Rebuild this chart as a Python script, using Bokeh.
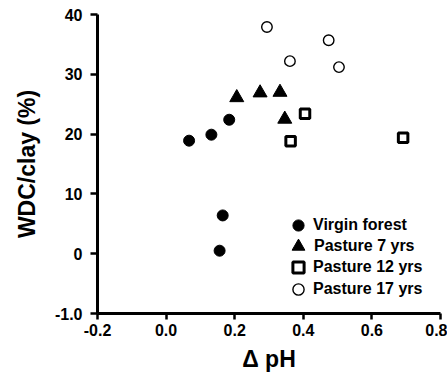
from bokeh.plotting import figure
from bokeh.models import Legend, LegendItem, FixedTicker, Range1d
from bokeh.embed import file_html
from bokeh.resources import INLINE

# Data
virgin_x = [0.067, 0.132, 0.184, 0.165, 0.156]
virgin_y = [18.9, 19.9, 22.4, 6.4, 0.5]

p7_x = [0.206, 0.274, 0.332, 0.346]
p7_y = [26.1, 26.9, 27.0, 22.5]

p12_x = [0.405, 0.363, 0.691]
p12_y = [23.4, 18.8, 19.4]

p17_x = [0.294, 0.474, 0.361, 0.504]
p17_y = [37.9, 35.7, 32.2, 31.2]

series_labels = ["Virgin forest", "Pasture 7 yrs", "Pasture 12 yrs", "Pasture 17 yrs"]

x_ticks = [-0.2, 0.0, 0.2, 0.4, 0.6, 0.8]
x_tick_labels = ["-0.2", "0.0", "0.2", "0.4", "0.6", "0.8"]
y_ticks = [-10, 0, 10, 20, 30, 40]
y_tick_labels = ["-1.0", "0", "10", "20", "30", "40"]

FONT = "Liberation Sans"

p = figure(width=447, height=375, output_backend="svg", toolbar_location=None,
           x_range=Range1d(-0.2, 0.8), y_range=Range1d(-10, 40),
           min_border_left=97, min_border_right=7, min_border_top=14, min_border_bottom=62)
p.outline_line_color = None
p.grid.visible = False
p.background_fill_color = "white"
p.border_fill_color = "white"

r1 = p.scatter(virgin_x, virgin_y, marker="circle", size=11, fill_color="black", line_color="black")
r2 = p.scatter(p7_x, p7_y, marker="triangle", size=14, fill_color="black", line_color="black")
r3 = p.scatter(p12_x, p12_y, marker="square", size=9.5, fill_color="white", line_color="black", line_width=3)
r4 = p.scatter(p17_x, p17_y, marker="circle", size=10.5, fill_color="white", line_color="black", line_width=1.4)

for ax, ticks, labels in ((p.xaxis[0], x_ticks, x_tick_labels), (p.yaxis[0], y_ticks, y_tick_labels)):
    ax.ticker = FixedTicker(ticks=ticks)
    ax.major_label_overrides = {t: l for t, l in zip(ticks, labels)}
    ax.axis_line_width = 3
    ax.axis_line_color = "black"
    ax.major_tick_line_width = 2.5
    ax.major_tick_line_color = "black"
    ax.major_tick_in = 0
    ax.minor_tick_line_color = None
    ax.major_label_text_font = FONT
    ax.major_label_text_font_style = "bold"
    ax.major_label_text_font_size = "16px"
    ax.major_label_text_color = "black"
    ax.axis_label_text_font = FONT
    ax.axis_label_text_font_style = "bold"
    ax.axis_label_text_color = "black"
    ax.axis_label_text_font_size = "23px"

p.xaxis.axis_label = "\u0394 pH"
p.xaxis.major_tick_out = 6
p.xaxis.major_label_standoff = 4
p.xaxis.axis_label_standoff = 7

p.yaxis.axis_label = "WDC/clay (%)"
p.yaxis.major_tick_out = 7
p.yaxis.major_label_standoff = 8
p.yaxis.axis_label_standoff = 12

# One legend box per entry so the key markers can be large while rows stay close
renderers = [r1, r2, r3, r4]
glyph_boxes = [28, 32, 28, 28]
row_bottoms = [74, 53, 32, 10]
for label, rend, box, yb in zip(series_labels, renderers, glyph_boxes, row_bottoms):
    lg = Legend(items=[LegendItem(label=label, renderers=[rend])],
                location=(201 - box // 2, yb - (box - 28) // 2), orientation="vertical")
    lg.glyph_width = box
    lg.glyph_height = box
    lg.label_height = 21
    lg.spacing = 0
    lg.label_standoff = 1 - (box - 28) // 2
    lg.padding = 0
    lg.margin = 0
    lg.border_line_color = None
    lg.background_fill_alpha = 0
    lg.label_text_font = FONT
    lg.label_text_font_style = "bold"
    lg.label_text_font_size = "16px"
    lg.label_text_color = "black"
    p.add_layout(lg)

open("out.html", "w").write(file_html(p, INLINE))
